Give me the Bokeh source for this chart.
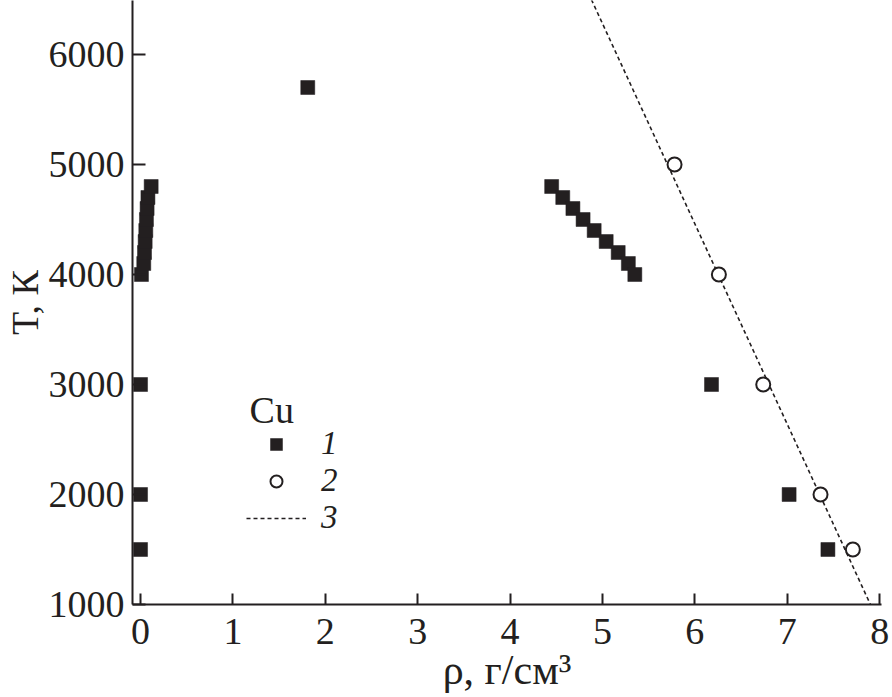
from bokeh.plotting import figure
from bokeh.models import Range1d, FixedTicker, Legend, LegendItem, Label
from bokeh.embed import file_html
from bokeh.resources import INLINE

# Series 1: filled squares
rho1 = [0.0, 0.0, 0.0,
        0.01, 0.035, 0.043, 0.05, 0.057, 0.064, 0.071, 0.08, 0.115,
        1.81,
        4.45, 4.57, 4.68, 4.79, 4.91, 5.04, 5.17, 5.28, 5.35,
        6.18, 7.02, 7.44]
T1 = [1500, 2000, 3000,
      4000, 4100, 4200, 4300, 4400, 4500, 4600, 4700, 4800,
      5700,
      4800, 4700, 4600, 4500, 4400, 4300, 4200, 4100, 4000,
      3000, 2000, 1500]

# Series 2: open circles
rho2 = [5.78, 6.26, 6.74, 7.36, 7.71]
T2 = [5000, 4000, 3000, 2000, 1500]

# Series 3: dashed line
rho3 = [4.88, 7.90]
T3 = [6500, 1000]

x_ticks = [0, 1, 2, 3, 4, 5, 6, 7, 8]
y_ticks = [1000, 2000, 3000, 4000, 5000, 6000]
labels = ["1", "2", "3"]

FONT = "Liberation Serif"
FS = "38px"
INK = "#231f20"

p = figure(frame_width=749, frame_height=604,
           min_border_left=131, min_border_right=10, min_border_top=0, min_border_bottom=91,
           x_range=Range1d(-0.087, 8.02), y_range=Range1d(1000, 6491),
           output_backend="svg", toolbar_location=None)

p.outline_line_color = None
p.xgrid.visible = False
p.ygrid.visible = False
p.background_fill_color = "white"

for ax in (p.xaxis[0], p.yaxis[0]):
    ax.axis_line_width = 2
    ax.axis_line_color = INK
    ax.major_tick_line_width = 2
    ax.major_tick_line_color = INK
    ax.major_tick_out = 0
    ax.minor_tick_line_color = None
    ax.major_label_text_font = FONT
    ax.major_label_text_font_size = FS
    ax.major_label_text_color = INK
    ax.axis_label_text_font = FONT
    ax.axis_label_text_font_style = "normal"
    ax.axis_label_text_color = INK

p.xaxis.ticker = FixedTicker(ticks=x_ticks)
p.yaxis.ticker = FixedTicker(ticks=y_ticks)
p.xaxis.major_tick_in = 11
p.yaxis.major_tick_in = 13
p.xaxis.major_label_standoff = 14
p.yaxis.major_label_standoff = 8
p.xaxis.axis_label = "ρ, г/см³"
p.xaxis.axis_label_text_font_size = "42px"
p.xaxis.axis_label_standoff = 0
p.yaxis.axis_label = "T, К"
p.yaxis.axis_label_text_font_size = "38px"
p.yaxis.axis_label_standoff = 0

r3 = p.line(rho3, T3, line_color=INK, line_width=1.6, line_dash="4 3")
r1 = p.scatter(rho1, T1, marker="square", size=14, fill_color=INK,
               line_color=INK, line_width=0.5)
r2 = p.scatter(rho2, T2, marker="circle", size=14, fill_color="white",
               line_color=INK, line_width=2)

common = dict(label_text_font=FONT, label_text_font_size="33px",
              label_text_font_style="italic", label_text_color=INK,
              glyph_width=60, glyph_height=30, label_height=30,
              label_standoff=15, spacing=0, padding=0, margin=0,
              border_line_color=None, background_fill_alpha=0)
for lab, rend, vy in zip(labels, [r1, r2, r3], [142, 105, 68]):
    lg = Legend(items=[LegendItem(label=lab, renderers=[rend])],
                location=(114, vy), **common)
    p.add_layout(lg, "center")

p.add_layout(Label(x=1.18, y=2764, text="Cu", text_font=FONT, text_font_size="38px",
                   text_color=INK, text_baseline="middle", text_align="left"))

open("out.html", "w").write(file_html(p, INLINE))
